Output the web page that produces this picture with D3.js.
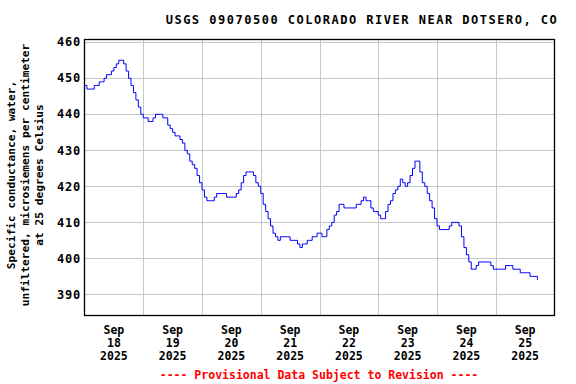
<!DOCTYPE html>
<html>
<head>
<meta charset="utf-8">
<script src="https://cdn.jsdelivr.net/npm/d3@7"></script>
<style>
  body { margin: 0; background: #fff; }
  text { font-family: "DejaVu Sans Mono", monospace; font-weight: bold; }
</style>
</head>
<body>
<svg id="chart" width="576" height="384"></svg>
<script>
// USGS specific conductance, hourly readings from Sep 18 2025 00:00
const startTime = new Date(2025, 8, 18, 0, 0);
const endTime = new Date(2025, 8, 26, 0, 0);
const conductance = [
  448, 447, 447, 447, 448, 448, 449, 449, 450, 451, 451, 452, 453, 454, 455, 455,
  454, 452, 450, 448, 446, 444, 442, 440, 439, 439, 438, 438, 439, 440, 440, 440,
  439, 439, 437, 436, 435, 434, 434, 433, 432, 430, 429, 427, 426, 425, 423, 421,
  419, 417, 416, 416, 416, 417, 418, 418, 418, 418, 417, 417, 417, 417, 418, 419,
  421, 423, 424, 424, 424, 423, 421, 420, 418, 415, 413, 411, 409, 407, 406, 405,
  406, 406, 406, 406, 405, 405, 405, 404, 403, 404, 404, 405, 405, 406, 406, 407,
  407, 406, 406, 408, 409, 410, 412, 413, 415, 415, 414, 414, 414, 414, 414, 415,
  415, 416, 417, 416, 416, 414, 413, 413, 412, 411, 411, 413, 415, 416, 418, 419,
  420, 422, 421, 420, 421, 423, 425, 427, 427, 424, 421, 420, 418, 416, 414, 411,
  409, 408, 408, 408, 408, 409, 410, 410, 410, 409, 406, 403, 401, 399, 397, 397,
  398, 399, 399, 399, 399, 399, 398, 397, 397, 397, 397, 397, 398, 398, 398, 397,
  397, 397, 396, 396, 396, 396, 395, 395, 395, 394
];
const yTicks = [390, 400, 410, 420, 430, 440, 450, 460];
const dayLabels = ["18", "19", "20", "21", "22", "23", "24", "25"];
const monthLabel = "Sep";
const yearLabel = "2025";
const title = "USGS 09070500 COLORADO RIVER NEAR DOTSERO, CO";
const yTitle = [
  "Specific conductance, water,",
  "unfiltered, microsiemens per centimeter",
  "at 25 degrees Celsius"
];
const footer = "---- Provisional Data Subject to Revision ----";

const HOUR = 3600 * 1000;
const data = conductance.map((v, i) => ({ t: new Date(startTime.getTime() + i * HOUR), v }));

const margin = { left: 84, right: 21, top: 39, bottom: 68 };
const width = 576, height = 384;

const svg = d3.select("#chart");

const x = d3.scaleTime()
  .domain([startTime, endTime])
  .range([margin.left + 0.5, width - margin.right - 0.5]);

const y = d3.scaleLinear()
  .domain([384, 460.9])
  .range([height - margin.bottom, margin.top]);

// gridlines
const grid = svg.append("g").attr("stroke", "#c8c8c8").attr("stroke-width", 1);
const days = d3.timeDay.range(d3.timeDay.offset(startTime, 1), endTime);
grid.selectAll("line.v")
  .data(days)
  .join("line")
  .attr("x1", d => Math.round(x(d)) + 0.5)
  .attr("x2", d => Math.round(x(d)) + 0.5)
  .attr("y1", margin.top)
  .attr("y2", height - margin.bottom);
grid.selectAll("line.h")
  .data(yTicks)
  .join("line")
  .attr("x1", margin.left)
  .attr("x2", width - margin.right)
  .attr("y1", d => Math.round(y(d)) + 0.5)
  .attr("y2", d => Math.round(y(d)) + 0.5);

// data line
const line = d3.line()
  .x(d => x(d.t))
  .y(d => y(d.v))
  .curve(d3.curveStepAfter);

svg.append("path")
  .datum(data)
  .attr("fill", "none")
  .attr("stroke", "#0000ff")
  .attr("stroke-width", 1)
  .attr("d", line);

// frame
svg.append("rect")
  .attr("x", margin.left + 0.5)
  .attr("y", margin.top + 0.5)
  .attr("width", width - margin.left - margin.right - 1)
  .attr("height", height - margin.top - margin.bottom - 1)
  .attr("fill", "none")
  .attr("stroke", "#000")
  .attr("stroke-width", 1.3);

// y tick labels
svg.append("g")
  .selectAll("text")
  .data(yTicks)
  .join("text")
  .attr("x", 81)
  .attr("y", d => y(d))
  .attr("dy", "0.35em")
  .attr("text-anchor", "end")
  .attr("font-size", 12)
  .attr("letter-spacing", 0.8)
  .text(d => d);

// x tick labels at noon of each day
const noons = dayLabels.map((d, i) => new Date(startTime.getTime() + (i * 24 + 12) * HOUR));
const xl = svg.append("g")
  .selectAll("g")
  .data(noons)
  .join("g")
  .attr("transform", d => `translate(${x(d)},0)`);
xl.append("text").attr("y", 334).attr("text-anchor", "middle").attr("font-size", 11.5).text(monthLabel);
xl.append("text").attr("y", 347).attr("text-anchor", "middle").attr("font-size", 11.5).text((d, i) => dayLabels[i]);
xl.append("text").attr("y", 360).attr("text-anchor", "middle").attr("font-size", 11.5).text(yearLabel);

// title
svg.append("text")
  .attr("x", 362)
  .attr("y", 24)
  .attr("text-anchor", "middle")
  .attr("font-size", 12)
  .attr("letter-spacing", 1.5)
  .text(title);

// y axis title
const yt = svg.append("text")
  .attr("transform", "translate(0,175) rotate(-90)")
  .attr("text-anchor", "middle")
  .attr("font-size", 11.2);
yTitle.forEach((t, i) => {
  yt.append("tspan").attr("x", 0).attr("y", 15 + i * 14).text(t);
});

// footer
svg.append("text")
  .attr("x", 319)
  .attr("y", 379)
  .attr("text-anchor", "middle")
  .attr("font-size", 11.5)
  .attr("fill", "#ff0000")
  .text(footer);
</script>
</body>
</html>
